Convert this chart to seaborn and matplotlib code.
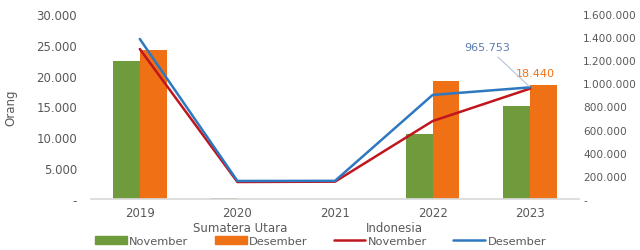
import numpy as np
import pandas as pd
import matplotlib
matplotlib.use('Agg')
import matplotlib.pyplot as plt
from matplotlib.ticker import FuncFormatter
from matplotlib.patches import Patch
from matplotlib.lines import Line2D
import seaborn as sns

# data
years = ['2019', '2020', '2021', '2022', '2023']
sumut_nov = [22400, 90, 30, 10600, 15100]
sumut_des = [24200, 40, 20, 19200, 18440]
indo_nov = [1297000, 147000, 150000, 674000, 955000]
indo_des = [1384000, 156000, 157000, 900000, 965753]

green = '#6F9B3C'
orange = '#F07016'
red = '#C0161E'
blue = '#2E78C0'
grey = '#595959'

sns.set_theme(style='white')
plt.rcParams['font.family'] = ['DejaVu Sans']

bars = pd.DataFrame({
    'tahun': years * 2,
    'bulan': ['November'] * 5 + ['Desember'] * 5,
    'orang': sumut_nov + sumut_des,
})

fig = plt.figure(figsize=(6.4, 2.51), dpi=100)
ax = fig.add_axes([91 / 640, 1 - 200 / 251, 488 / 640, 185 / 251])
sns.barplot(data=bars, x='tahun', y='orang', hue='bulan', order=years,
            palette=[green, orange], width=0.55, saturation=1, linewidth=0,
            ax=ax, legend=False)
ax.set_xlim(-0.5, 4.5)
ax.set_ylim(0, 30000)
ax.set_yticks(range(0, 30001, 5000))


def dots(v, pos):
    if v == 0:
        return '-'
    return f'{int(v):,}'.replace(',', '.')


ax.yaxis.set_major_formatter(FuncFormatter(dots))
ax.set_xlabel('')
ax.set_ylabel('Orang', fontsize=8.5, color=grey, labelpad=14)
ax.tick_params(axis='y', labelsize=8.5, colors=grey, length=0, pad=10)
ax.tick_params(axis='x', labelsize=8.5, colors=grey, length=0, pad=5)
for s in ['top', 'right', 'left']:
    ax.spines[s].set_visible(False)
ax.spines['bottom'].set_color('#d9d9d9')

ax2 = ax.twinx()
xs = list(range(len(years)))
sns.lineplot(x=xs, y=indo_nov, color=red, lw=1.8, ax=ax2)
sns.lineplot(x=xs, y=indo_des, color=blue, lw=1.8, ax=ax2)
ax2.set_ylim(0, 1600000)
ax2.set_yticks(range(0, 1600001, 200000))
ax2.yaxis.set_major_formatter(FuncFormatter(dots))
ax2.tick_params(axis='y', labelsize=7.6, colors=grey, length=0, pad=3)
for s in ['top', 'right', 'left', 'bottom']:
    ax2.spines[s].set_visible(False)
ax.set_xlim(-0.5, 4.5)

ax2.annotate(dots(indo_des[-1], 0), xy=(4, indo_des[-1]), xytext=(-31, 27),
             textcoords='offset points', fontsize=8, color='#5B7DB1', ha='center',
             arrowprops=dict(arrowstyle='-', color='#b4c3d8', lw=0.8,
                             shrinkA=2, shrinkB=1))
ax.annotate(dots(sumut_des[-1], 0), xy=(4.05, sumut_des[-1]), xytext=(0, 7),
            textcoords='offset points', fontsize=8, color=orange, ha='center')

# legend
fig.text(240 / 640, 1 - 229 / 251, 'Sumatera Utara', fontsize=8.5, color=grey,
         ha='center', va='center')
fig.text(394 / 640, 1 - 229 / 251, 'Indonesia', fontsize=8.5, color=grey,
         ha='center', va='center')
handles = [Patch(color=green), Patch(color=orange),
           Line2D([], [], color=red, lw=1.8), Line2D([], [], color=blue, lw=1.8)]
labels = ['November', 'Desember', 'November', 'Desember']
fig.legend(handles, labels, loc='center left', bbox_to_anchor=(95 / 640, 1 - 242 / 251),
           ncol=4, frameon=False, fontsize=8.2, labelcolor=grey,
           handlelength=2.8, handleheight=0.6, handletextpad=0.2,
           columnspacing=2.3, borderpad=0, borderaxespad=0)

fig.savefig('out.png', dpi=100)
